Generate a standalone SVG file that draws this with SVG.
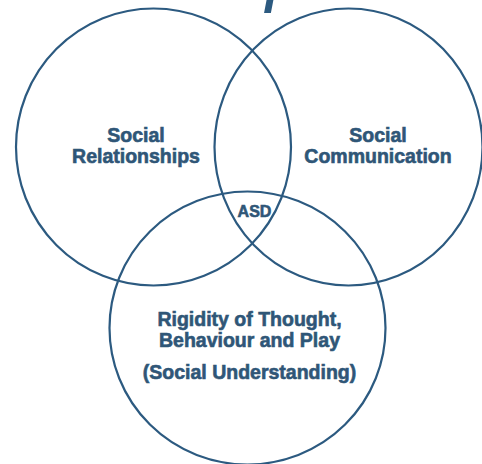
<svg xmlns="http://www.w3.org/2000/svg" width="482" height="464" viewBox="0 0 482 464">
  <style>
    .ring { fill: none; stroke: #2c5a80; stroke-width: 2.2; }
    .lbl { font-family: "Liberation Sans", Arial, sans-serif; font-weight: bold; fill: #2f5677; stroke: #2f5677; stroke-width: 0.6; text-anchor: middle; }
    .big { font-size: 19.5px; }
    .small { font-size: 16px; }
  </style>
  <rect width="482" height="464" fill="#ffffff"/>
  <text x="266" y="-3" font-family="Liberation Sans, Arial, sans-serif" font-style="italic" font-size="78" fill="#2c5a80">p</text>
  <g id="social-relationships">
    <ellipse class="ring" cx="153.5" cy="147" rx="137.5" ry="138.5"/>
    <text class="lbl big" x="136" y="141.5">Social</text>
    <text class="lbl big" x="136" y="162.5">Relationships</text>
  </g>
  <g id="social-communication">
    <ellipse class="ring" cx="348.5" cy="147" rx="134" ry="138.5"/>
    <text class="lbl big" x="378" y="141.5">Social</text>
    <text class="lbl big" x="378" y="162.5">Communication</text>
  </g>
  <g id="rigidity">
    <ellipse class="ring" cx="247.5" cy="328" rx="138" ry="136.5"/>
    <text class="lbl big" x="249.5" y="326">Rigidity of Thought,</text>
    <text class="lbl big" x="249.5" y="347">Behaviour and Play</text>
    <text class="lbl big" x="249.5" y="379">(Social Understanding)</text>
  </g>
  <g id="asd">
    <text class="lbl small" x="254.5" y="217">ASD</text>
  </g>
  <g id="connectors"></g>
</svg>
